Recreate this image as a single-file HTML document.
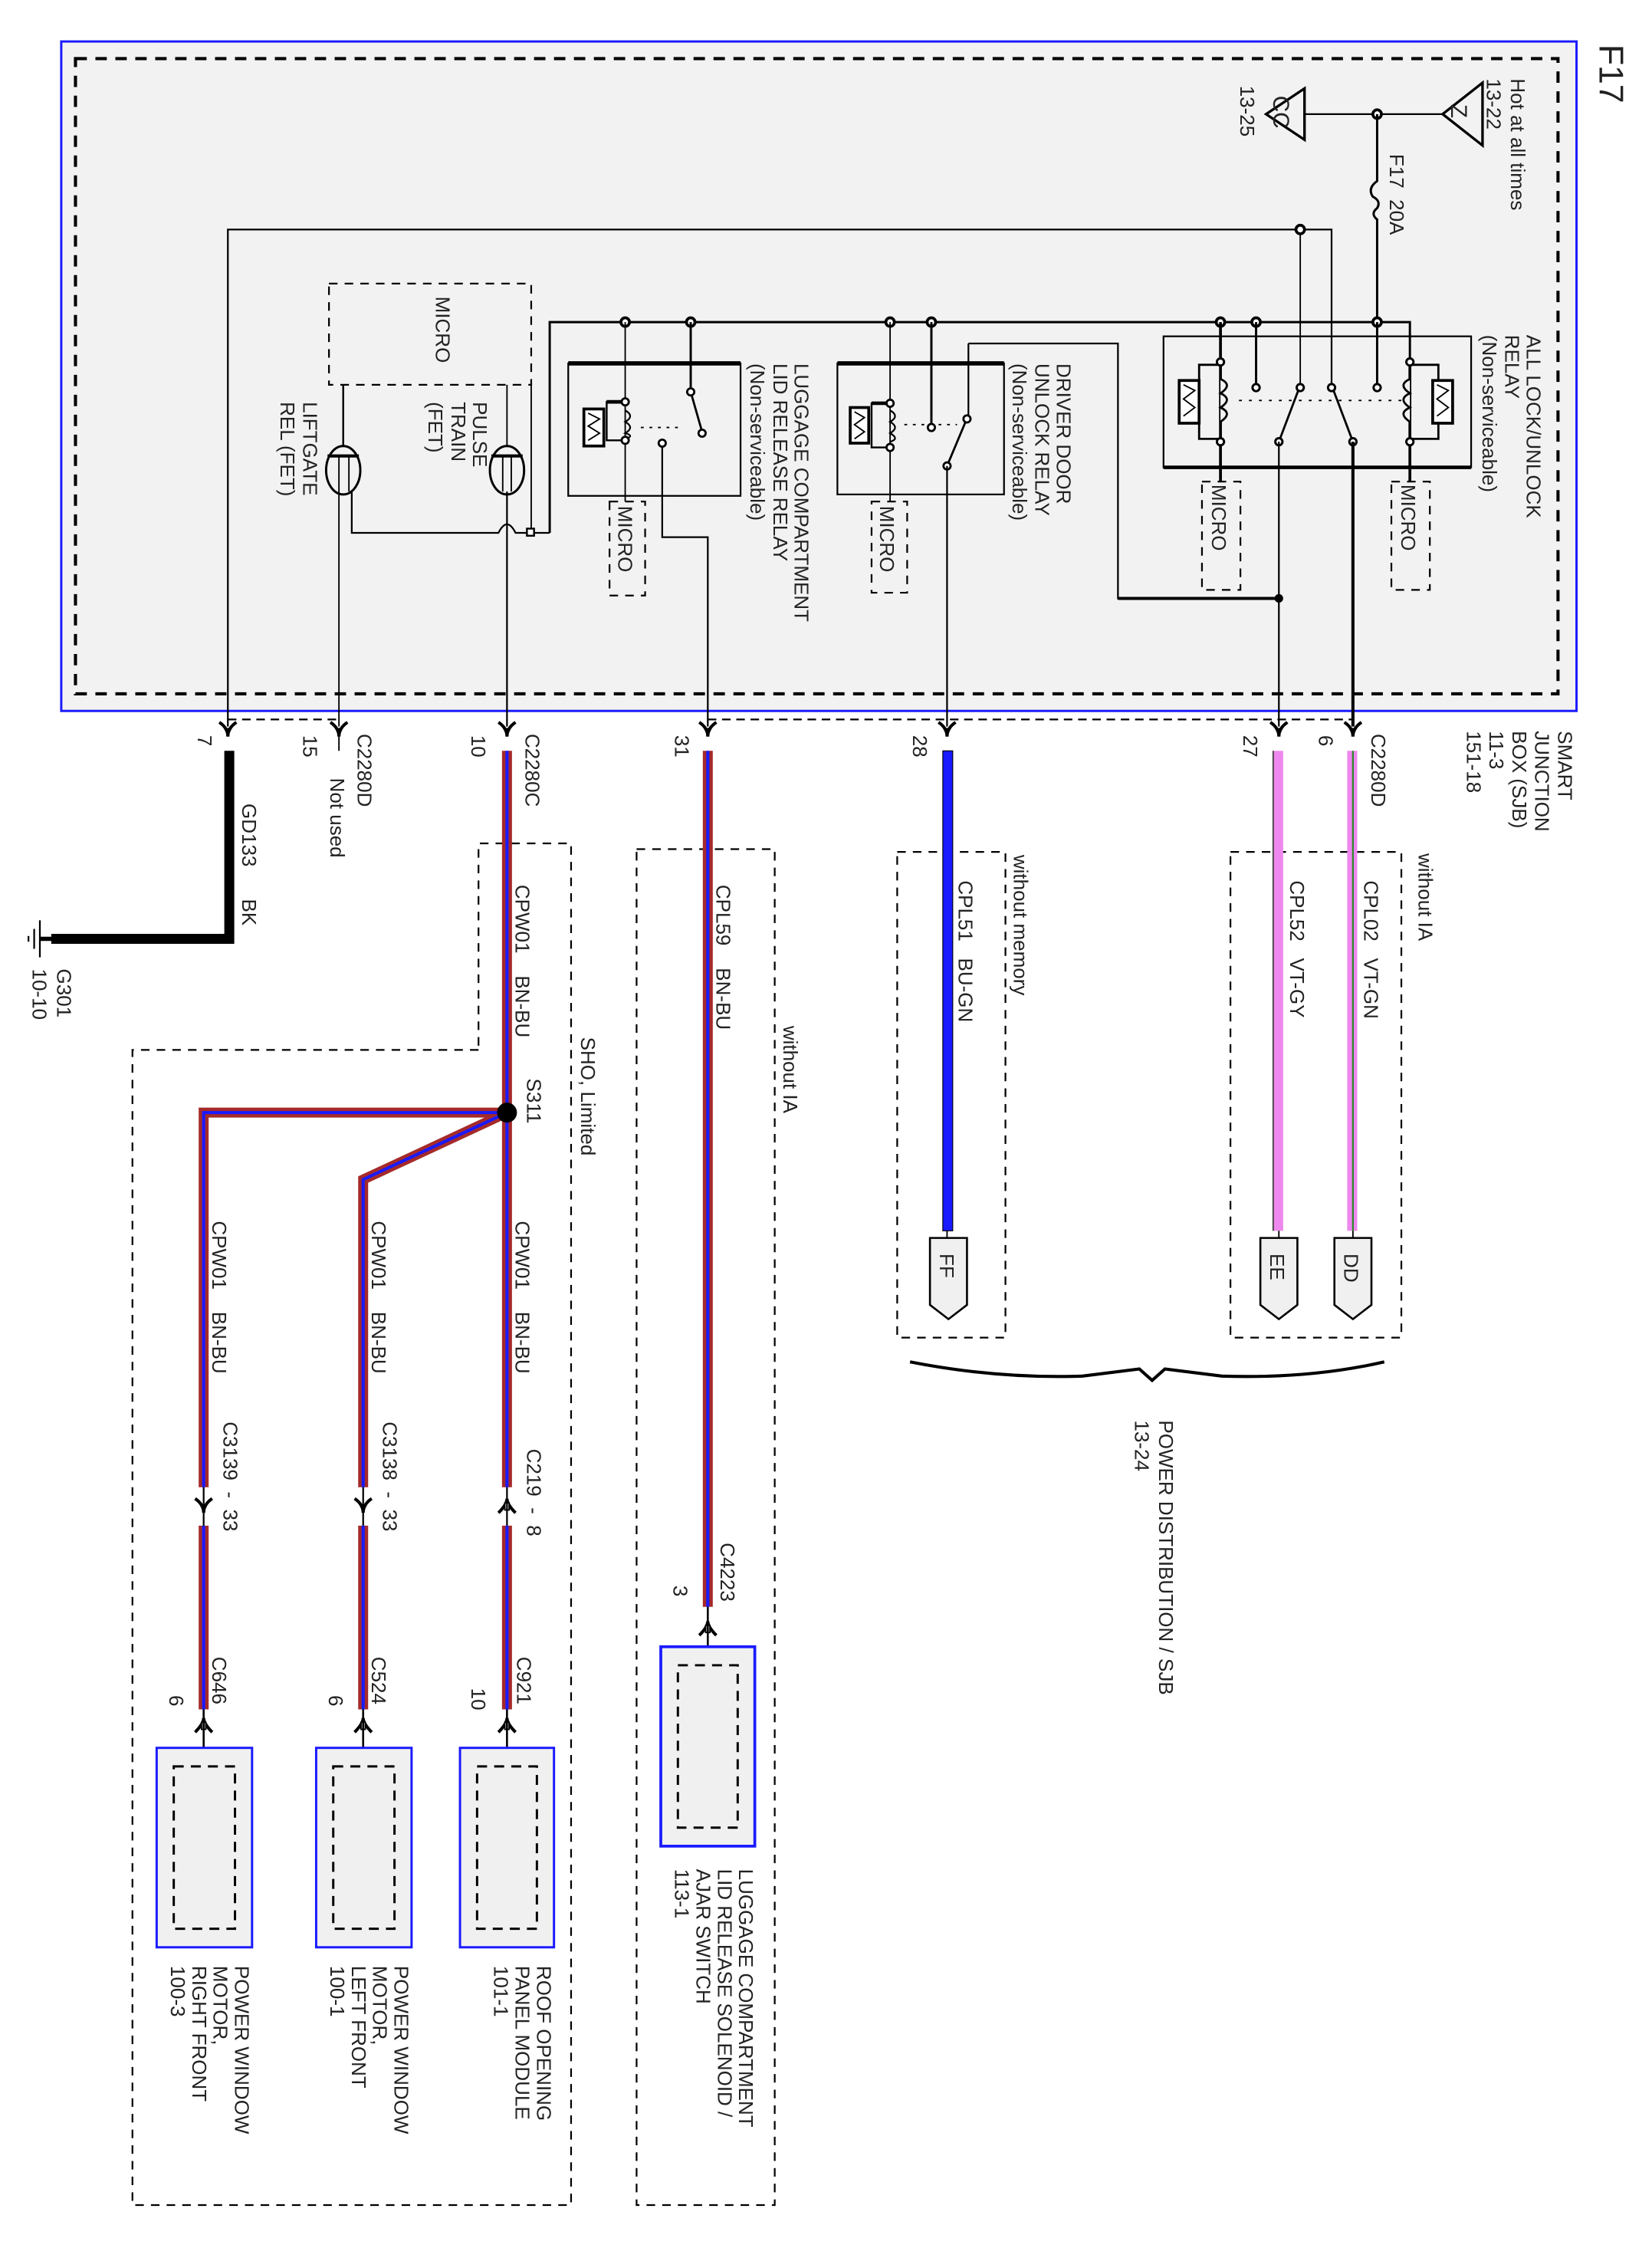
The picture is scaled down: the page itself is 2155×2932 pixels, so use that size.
<!DOCTYPE html>
<html><head><meta charset="utf-8"><style>
html,body{margin:0;padding:0;background:#fff;}
svg{display:block;}
text{font-family:"Liberation Sans",Arial,sans-serif;fill:#222;white-space:pre;}
</style></head><body>
<svg width="2155" height="2932" viewBox="0 0 1160 1578" xmlns="http://www.w3.org/2000/svg" xml:space="preserve">
<defs>
<g id="cdn"><path d="M-6,-6 Q0,-2 0,4 Q0,-2 6,-6" fill="none" stroke="#000" stroke-width="2.2"/><path d="M-3,-2 L0,4 L3,-2Z" fill="#000"/></g>
<g id="cup"><path d="M-6,4 Q0,-2 0,-6 Q0,-2 6,4" fill="none" stroke="#000" stroke-width="2.2"/><rect x="-1.5" y="-3" width="3" height="5" fill="#fff" stroke="#000" stroke-width="1"/></g>
</defs>
<rect x="43" y="29" width="1064" height="470" fill="#f2f2f2" stroke="#1a1aff" stroke-width="1.6"/>
<rect x="53" y="41" width="1041" height="446" fill="none" stroke="#000" stroke-width="2.2" stroke-dasharray="8,6"/>
<text transform="translate(1123,31) rotate(90)" font-size="24">F17</text>

<line x1="916" y1="80" x2="1013" y2="80" stroke="#000" stroke-width="1.2"/>
<path d="M1013,80 L1041,58 L1041,102Z" fill="#f2f2f2" stroke="#000" stroke-width="1.8"/>
<text transform="translate(1019,73) rotate(90)" font-size="16">Z</text>
<path d="M889,80 L916,62 L916,98Z" fill="#f2f2f2" stroke="#000" stroke-width="1.8"/>
<text transform="translate(894,67) rotate(90)" font-size="16">CC</text>
<text transform="translate(1061,55) rotate(90)" font-size="14">Hot at all times</text>
<text transform="translate(1044,55) rotate(90)" font-size="14">13-22</text>
<text transform="translate(871,60) rotate(90)" font-size="14">13-25</text>
<circle cx="967" cy="80" r="3" fill="#fff" stroke="#000" stroke-width="2"/>
<path d="M967,80 L967,127 Q960,132 964,138 Q970,141 967,146 Q962,150 967,154 L967,226" fill="none" stroke="#000" stroke-width="1.6"/>
<text transform="translate(976,108) rotate(90)" font-size="14">F17  20A</text>

<polyline points="160,510 160,161 935,161 935,272" fill="none" stroke="#000" stroke-width="1.2"/>
<line x1="913" y1="161" x2="913" y2="272" stroke="#000" stroke-width="1"/>
<circle cx="913" cy="161" r="3" fill="#fff" stroke="#000" stroke-width="2"/>

<polyline points="386,374 386,226 990,226 990,254" fill="none" stroke="#000" stroke-width="1.6"/>
<g fill="#fff" stroke="#000" stroke-width="2">
<circle cx="439" cy="226" r="3"/><circle cx="485" cy="226" r="3"/><circle cx="625" cy="226" r="3"/><circle cx="654" cy="226" r="3"/>
<circle cx="857" cy="226" r="3"/><circle cx="882" cy="226" r="3"/><circle cx="967" cy="226" r="3"/>
</g>

<rect x="817" y="236" width="216" height="92" fill="none" stroke="#000" stroke-width="1.2"/>
<line x1="817" y1="328" x2="1033" y2="328" stroke="#000" stroke-width="2.5"/>
<line x1="857" y1="226" x2="857" y2="338" stroke="#000" stroke-width="2"/>
<line x1="990" y1="254" x2="990" y2="338" stroke="#000" stroke-width="2"/>
<path d="M857,256 L842,256 L842,308 L857,308 M990,256 L1010,256 L1010,308 L990,308" fill="none" stroke="#000" stroke-width="1.5"/>
<rect x="828" y="267" width="14" height="30" fill="#fff" stroke="#000" stroke-width="2"/>
<rect x="1006" y="267" width="14" height="30" fill="#fff" stroke="#000" stroke-width="2"/>
<path d="M831,270 L839,274 L831,280 L839,286 L831,292 M1009,270 L1017,274 L1009,280 L1017,286 L1009,292" fill="none" stroke="#000" stroke-width="1"/>
<path d="M857,266 Q866,270 857,276 Q866,280 857,286 Q866,290 857,296" fill="#f2f2f2" stroke="#000" stroke-width="1.5"/>
<path d="M990,266 Q981,270 990,276 Q981,280 990,286 Q981,290 990,296" fill="#f2f2f2" stroke="#000" stroke-width="1.5"/>
<line x1="882" y1="226" x2="882" y2="272" stroke="#000" stroke-width="1.6"/>
<line x1="967" y1="226" x2="967" y2="272" stroke="#000" stroke-width="1.6"/>
<line x1="870" y1="281" x2="985" y2="281" stroke="#000" stroke-width="1" stroke-dasharray="2,5"/>
<line x1="898" y1="310" x2="912" y2="273" stroke="#000" stroke-width="1.5"/>
<line x1="950" y1="310" x2="936" y2="273" stroke="#000" stroke-width="1.5"/>
<g fill="#fff" stroke="#000" stroke-width="1.6">
<circle cx="882" cy="272" r="2.5"/><circle cx="913" cy="272" r="2.5"/><circle cx="935" cy="272" r="2.5"/><circle cx="967" cy="272" r="2.5"/>
<circle cx="898" cy="310" r="2.5"/><circle cx="950" cy="310" r="2.5"/>
<circle cx="857" cy="254" r="2.5"/><circle cx="857" cy="310" r="2.5"/><circle cx="990" cy="254" r="2.5"/><circle cx="990" cy="310" r="2.5"/>
</g>
<rect x="844" y="338" width="27" height="76" fill="none" stroke="#000" stroke-width="1.2" stroke-dasharray="6,5"/>
<rect x="977" y="338" width="27" height="76" fill="none" stroke="#000" stroke-width="1.2" stroke-dasharray="6,5"/>
<text transform="translate(851,340) rotate(90)" font-size="14">MICRO</text>
<text transform="translate(984,340) rotate(90)" font-size="14">MICRO</text>
<text transform="translate(1072,235) rotate(90)" font-size="14">ALL LOCK/UNLOCK</text>
<text transform="translate(1057,235) rotate(90)" font-size="14">RELAY</text>
<text transform="translate(1041,235) rotate(90)" font-size="14">(Non-serviceable)</text>
<line x1="898" y1="310" x2="898" y2="510" stroke="#000" stroke-width="1.2"/>
<line x1="950" y1="310" x2="950" y2="510" stroke="#000" stroke-width="2.2"/>
<polyline points="680,241 785,241 785,420 898,420" fill="none" stroke="#000" stroke-width="1.2"/>
<line x1="785" y1="420" x2="898" y2="420" stroke="#000" stroke-width="2.2"/>
<circle cx="898" cy="420" r="3" fill="#000"/>

<rect x="588" y="255" width="117" height="92" fill="none" stroke="#000" stroke-width="1.2"/>
<line x1="588" y1="255" x2="705" y2="255" stroke="#000" stroke-width="3"/>
<line x1="625" y1="226" x2="625" y2="352" stroke="#000" stroke-width="1"/>
<path d="M625,283 L612,283 L612,314 L625,314" fill="none" stroke="#000" stroke-width="1.3"/>
<line x1="612" y1="283" x2="625" y2="283" stroke="#000" stroke-width="2.5"/>
<rect x="597" y="286" width="13" height="25" fill="#fff" stroke="#000" stroke-width="2"/>
<path d="M600,289 L607,293 L600,298 L607,303 L600,308" fill="none" stroke="#000" stroke-width="1"/>
<path d="M625,288 Q632,292 625,296 Q632,300 625,304 Q632,308 625,310" fill="none" stroke="#000" stroke-width="1.2"/>
<line x1="654" y1="226" x2="654" y2="300" stroke="#000" stroke-width="1.6"/>
<polyline points="680,241 680,294" fill="none" stroke="#000" stroke-width="1.2"/>
<line x1="635" y1="298" x2="672" y2="298" stroke="#000" stroke-width="1" stroke-dasharray="2,4"/>
<line x1="665" y1="327" x2="678" y2="296" stroke="#000" stroke-width="1.5"/>
<g fill="#fff" stroke="#000" stroke-width="1.5">
<circle cx="625" cy="283" r="2.5"/><circle cx="625" cy="314" r="2.5"/><circle cx="654" cy="300" r="2.5"/><circle cx="679" cy="294" r="2.5"/><circle cx="665" cy="327" r="2.5"/>
</g>
<rect x="612" y="352" width="25" height="64" fill="none" stroke="#000" stroke-width="1.2" stroke-dasharray="6,5"/>
<text transform="translate(618,355) rotate(90)" font-size="14">MICRO</text>
<line x1="665" y1="327" x2="665" y2="510" stroke="#000" stroke-width="1.2"/>
<text transform="translate(742,255) rotate(90)" font-size="14">DRIVER DOOR</text>
<text transform="translate(727,255) rotate(90)" font-size="14">UNLOCK RELAY</text>
<text transform="translate(711,255) rotate(90)" font-size="14">(Non-serviceable)</text>

<rect x="399" y="255" width="121" height="93" fill="none" stroke="#000" stroke-width="1.2"/>
<line x1="399" y1="255" x2="520" y2="255" stroke="#000" stroke-width="3"/>
<line x1="439" y1="226" x2="439" y2="352" stroke="#000" stroke-width="1"/>
<path d="M439,309 L426,309 L426,282 L439,282" fill="none" stroke="#000" stroke-width="1.3"/>
<line x1="426" y1="282" x2="439" y2="282" stroke="#000" stroke-width="2.5"/>
<rect x="410" y="287" width="14" height="26" fill="#fff" stroke="#000" stroke-width="2"/>
<path d="M413,290 L421,294 L413,299 L421,304 L413,309" fill="none" stroke="#000" stroke-width="1"/>
<path d="M439,288 Q446,292 439,296 Q446,300 439,304 Q446,306 439,308" fill="none" stroke="#000" stroke-width="1.2"/>
<line x1="485" y1="226" x2="485" y2="275" stroke="#000" stroke-width="1.6"/>
<line x1="485" y1="275" x2="493" y2="303" stroke="#000" stroke-width="1.5"/>
<line x1="450" y1="300" x2="480" y2="300" stroke="#000" stroke-width="1" stroke-dasharray="2,4"/>
<g fill="#fff" stroke="#000" stroke-width="1.5">
<circle cx="439" cy="282" r="2.5"/><circle cx="439" cy="309" r="2.5"/><circle cx="485" cy="275" r="2.5"/><circle cx="493" cy="304" r="2.5"/><circle cx="465" cy="311" r="2.5"/>
</g>
<polyline points="465,313 465,377 497,377 497,510" fill="none" stroke="#000" stroke-width="1.2"/>
<rect x="428" y="352" width="25" height="66" fill="none" stroke="#000" stroke-width="1.2" stroke-dasharray="6,5"/>
<text transform="translate(434,355) rotate(90)" font-size="14">MICRO</text>
<text transform="translate(558,255) rotate(90)" font-size="14">LUGGAGE COMPARTMENT</text>
<text transform="translate(543,255) rotate(90)" font-size="14">LID RELEASE RELAY</text>
<text transform="translate(527,255) rotate(90)" font-size="14">(Non-serviceable)</text>

<rect x="231" y="199" width="142" height="71" fill="none" stroke="#000" stroke-width="1.2" stroke-dasharray="6,5"/>
<text transform="translate(306,208) rotate(90)" font-size="14">MICRO</text>
<line x1="241" y1="270" x2="241" y2="316" stroke="#000" stroke-width="1.3"/>
<line x1="373" y1="270" x2="373" y2="374" stroke="#000" stroke-width="1"/>
<line x1="356" y1="270" x2="356" y2="316" stroke="#000" stroke-width="1"/>
<ellipse cx="241" cy="330" rx="12" ry="17" fill="#f2f2f2" stroke="#000" stroke-width="1.6"/>
<ellipse cx="356" cy="330" rx="12" ry="17" fill="#f2f2f2" stroke="#000" stroke-width="1.6"/>
<line x1="230" y1="320" x2="252" y2="320" stroke="#000" stroke-width="2.2"/>
<line x1="345" y1="320" x2="367" y2="320" stroke="#000" stroke-width="2.2"/>
<line x1="238" y1="320" x2="238" y2="510" stroke="#000" stroke-width="1"/>
<line x1="245" y1="320" x2="245" y2="345" stroke="#000" stroke-width="1"/>
<line x1="353" y1="320" x2="353" y2="345" stroke="#000" stroke-width="1"/>
<line x1="359" y1="320" x2="359" y2="345" stroke="#000" stroke-width="1"/>
<line x1="356" y1="345" x2="356" y2="510" stroke="#000" stroke-width="1.2"/>
<path d="M247,345 L247,374 L350,374 Q356,362 362,374 L386,374" fill="none" stroke="#000" stroke-width="1.2"/>
<rect x="370" y="371" width="5" height="5" fill="#fff" stroke="#000" stroke-width="1.3"/>
<text transform="translate(332,282) rotate(90)" font-size="14">PULSE</text>
<text transform="translate(317,282) rotate(90)" font-size="14">TRAIN</text>
<text transform="translate(301,282) rotate(90)" font-size="14">(FET)</text>
<text transform="translate(213,282) rotate(90)" font-size="14">LIFTGATE</text>
<text transform="translate(197,282) rotate(90)" font-size="14">REL (FET)</text>

<line x1="160" y1="505" x2="238" y2="505" stroke="#000" stroke-width="1.2" stroke-dasharray="6,4"/>
<line x1="497" y1="505" x2="950" y2="505" stroke="#000" stroke-width="1.2" stroke-dasharray="6,4"/>
<g>
<use href="#cdn" x="160" y="513"/><use href="#cdn" x="238" y="513"/><use href="#cdn" x="356" y="513"/><use href="#cdn" x="497" y="513"/>
<use href="#cdn" x="665" y="513"/><use href="#cdn" x="898" y="513"/><use href="#cdn" x="950" y="513"/>
</g>
<line x1="238" y1="517" x2="238" y2="527" stroke="#000" stroke-width="1"/>
<text transform="translate(139,516) rotate(90)" font-size="14">7</text>
<text transform="translate(213,516) rotate(90)" font-size="14">15</text>
<text transform="translate(251,515) rotate(90)" font-size="14">C2280D</text>
<text transform="translate(232,546) rotate(90)" font-size="14">Not used</text>
<text transform="translate(331,516) rotate(90)" font-size="14">10</text>
<text transform="translate(369,515) rotate(90)" font-size="14">C2280C</text>
<text transform="translate(474,516) rotate(90)" font-size="14">31</text>
<text transform="translate(641,516) rotate(90)" font-size="14">28</text>
<text transform="translate(873,516) rotate(90)" font-size="14">27</text>
<text transform="translate(926,516) rotate(90)" font-size="14">6</text>
<text transform="translate(963,515) rotate(90)" font-size="14">C2280D</text>
<text transform="translate(1094,513) rotate(90)" font-size="14">SMART</text>
<text transform="translate(1078,513) rotate(90)" font-size="14">JUNCTION</text>
<text transform="translate(1062,513) rotate(90)" font-size="14">BOX (SJB)</text>
<text transform="translate(1046,513) rotate(90)" font-size="14">11-3</text>
<text transform="translate(1030,513) rotate(90)" font-size="14">151-18</text>

<polyline points="161,527 161,659 36,659" fill="none" stroke="#000" stroke-width="7"/>
<line x1="28" y1="659" x2="38" y2="659" stroke="#000" stroke-width="3"/>
<line x1="28" y1="646" x2="28" y2="672" stroke="#000" stroke-width="1.2"/>
<line x1="24" y1="652" x2="24" y2="666" stroke="#000" stroke-width="1.2"/>
<line x1="20" y1="657" x2="20" y2="661" stroke="#000" stroke-width="1.2"/>
<text transform="translate(170,564) rotate(90)" font-size="14">GD133</text>
<text transform="translate(170,631) rotate(90)" font-size="14">BK</text>
<text transform="translate(40,680) rotate(90)" font-size="14">G301</text>
<text transform="translate(23,680) rotate(90)" font-size="14">10-10</text>

<g fill="none" stroke="#000" stroke-width="1.2" stroke-dasharray="6,5">
<polyline points="336,737 93,737 93,1548 401,1548 401,592 336,592 336,737"/>
<rect x="447" y="596" width="97" height="952"/>
<rect x="630" y="598" width="76" height="341"/>
<rect x="864" y="598" width="120" height="341"/>
</g>
<text transform="translate(408,728) rotate(90)" font-size="14">SHO, Limited</text>
<text transform="translate(550,720) rotate(90)" font-size="14">without IA</text>
<text transform="translate(712,600) rotate(90)" font-size="14">without memory</text>
<text transform="translate(996,599) rotate(90)" font-size="14">without IA</text>

<g fill="none" stroke-linejoin="miter">
<g stroke="#a52a2a" stroke-width="7">
<polyline points="356,527 356,1044"/><polyline points="356,781 143,781 143,1044"/><polyline points="356,781 255,828 255,1044"/>
<line x1="356" y1="1071" x2="356" y2="1200"/><line x1="143" y1="1071" x2="143" y2="1200"/><line x1="255" y1="1071" x2="255" y2="1200"/>
<line x1="497" y1="527" x2="497" y2="1128"/>
</g>
<g stroke="#1a1aff" stroke-width="2.2">
<polyline points="356,527 356,1044"/><polyline points="356,781 143,781 143,1044"/><polyline points="356,781 255,828 255,1044"/>
<line x1="356" y1="1071" x2="356" y2="1200"/><line x1="143" y1="1071" x2="143" y2="1200"/><line x1="255" y1="1071" x2="255" y2="1200"/>
<line x1="497" y1="527" x2="497" y2="1128"/>
</g>
</g>
<circle cx="356" cy="781" r="7" fill="#000"/>
<rect x="662" y="527" width="7" height="337" fill="#1a1aff" stroke="#000" stroke-width="0.6"/>
<rect x="894" y="527" width="7" height="337" fill="#ee88ee"/>
<line x1="894" y1="527" x2="894" y2="864" stroke="#444" stroke-width="1"/>
<rect x="946" y="527" width="7" height="337" fill="#ee88ee"/>
<line x1="950" y1="527" x2="950" y2="864" stroke="#2a8a2a" stroke-width="1.2"/>
<g fill="#f0f0f0" stroke="#000" stroke-width="1.4">
<path d="M653,869 L679,869 L679,916 L666,926 L653,916Z"/>
<path d="M885,869 L911,869 L911,916 L898,926 L885,916Z"/>
<path d="M937,869 L963,869 L963,916 L950,926 L937,916Z"/>
</g>
<line x1="665" y1="864" x2="665" y2="869" stroke="#000"/><line x1="898" y1="864" x2="898" y2="869" stroke="#000"/><line x1="950" y1="864" x2="950" y2="869" stroke="#000"/>
<text transform="translate(660,880) rotate(90)" font-size="14">FF</text>
<text transform="translate(892,880) rotate(90)" font-size="14">EE</text>
<text transform="translate(944,880) rotate(90)" font-size="14">DD</text>
<text transform="translate(673,618) rotate(90)" font-size="14">CPL51   BU-GN</text>
<text transform="translate(906,618) rotate(90)" font-size="14">CPL52   VT-GY</text>
<text transform="translate(958,618) rotate(90)" font-size="14">CPL02   VT-GN</text>
<path d="M639,956 Q700,968 760,966 L800,961 L809,969 L818,961 L858,966 Q920,968 972,956" fill="none" stroke="#000" stroke-width="2.2"/>
<text transform="translate(814,997) rotate(90)" font-size="14">POWER DISTRIBUTION / SJB</text>
<text transform="translate(797,997) rotate(90)" font-size="14">13-24</text>

<text transform="translate(503,621) rotate(90)" font-size="14">CPL59    BN-BU</text>
<text transform="translate(362,621) rotate(90)" font-size="14">CPW01    BN-BU</text>
<text transform="translate(370,757) rotate(90)" font-size="14">S311</text>
<text transform="translate(362,857) rotate(90)" font-size="14">CPW01    BN-BU</text>
<text transform="translate(261,857) rotate(90)" font-size="14">CPW01    BN-BU</text>
<text transform="translate(149,857) rotate(90)" font-size="14">CPW01    BN-BU</text>
<text transform="translate(370,1017) rotate(90)" font-size="14">C219  -  8</text>
<text transform="translate(269,998) rotate(90)" font-size="14">C3138  -  33</text>
<text transform="translate(157,998) rotate(90)" font-size="14">C3139  -  33</text>
<text transform="translate(363,1163) rotate(90)" font-size="14">C921</text>
<text transform="translate(261,1163) rotate(90)" font-size="14">C524</text>
<text transform="translate(149,1163) rotate(90)" font-size="14">C646</text>
<text transform="translate(331,1185) rotate(90)" font-size="14">10</text>
<text transform="translate(231,1190) rotate(90)" font-size="14">6</text>
<text transform="translate(119,1190) rotate(90)" font-size="14">6</text>
<text transform="translate(506,1083) rotate(90)" font-size="14">C4223</text>
<text transform="translate(473,1113) rotate(90)" font-size="14">3</text>

<use href="#cup" x="356" y="1058"/><use href="#cdn" x="255" y="1058"/><use href="#cdn" x="143" y="1058"/>
<line x1="356" y1="1044" x2="356" y2="1071" stroke="#000" stroke-width="1.2"/>
<line x1="255" y1="1044" x2="255" y2="1071" stroke="#000" stroke-width="1.2"/>
<line x1="143" y1="1044" x2="143" y2="1071" stroke="#000" stroke-width="1.2"/>
<use href="#cup" x="356" y="1212"/><use href="#cup" x="255" y="1212"/><use href="#cup" x="143" y="1212"/><use href="#cup" x="497" y="1144"/>
<line x1="356" y1="1200" x2="356" y2="1241" stroke="#000" stroke-width="1.4"/>
<line x1="255" y1="1200" x2="255" y2="1241" stroke="#000" stroke-width="1.4"/>
<line x1="143" y1="1200" x2="143" y2="1241" stroke="#000" stroke-width="1.4"/>
<line x1="497" y1="1128" x2="497" y2="1170" stroke="#000" stroke-width="1.4"/>

<g fill="#f0f0f0" stroke="#1a1aff" stroke-width="1.6">
<rect x="323" y="1227" width="66" height="140"/>
<rect x="222" y="1227" width="67" height="140"/>
<rect x="110" y="1227" width="67" height="140"/>
<rect x="464" y="1156" width="66" height="140" stroke-width="2"/>
</g>
<g fill="none" stroke="#000" stroke-width="1.6" stroke-dasharray="7,5">
<rect x="335" y="1240" width="42" height="114"/>
<rect x="234" y="1240" width="43" height="114"/>
<rect x="122" y="1240" width="43" height="114"/>
<rect x="476" y="1169" width="42" height="114"/>
</g>
<text transform="translate(377,1380) rotate(90)" font-size="14">ROOF OPENING</text>
<text transform="translate(362,1380) rotate(90)" font-size="14">PANEL MODULE</text>
<text transform="translate(347,1380) rotate(90)" font-size="14">101-1</text>
<text transform="translate(277,1380) rotate(90)" font-size="14">POWER WINDOW</text>
<text transform="translate(262,1380) rotate(90)" font-size="14">MOTOR,</text>
<text transform="translate(247,1380) rotate(90)" font-size="14">LEFT FRONT</text>
<text transform="translate(232,1380) rotate(90)" font-size="14">100-1</text>
<text transform="translate(165,1380) rotate(90)" font-size="14">POWER WINDOW</text>
<text transform="translate(150,1380) rotate(90)" font-size="14">MOTOR,</text>
<text transform="translate(135,1380) rotate(90)" font-size="14">RIGHT FRONT</text>
<text transform="translate(120,1380) rotate(90)" font-size="14">100-3</text>
<text transform="translate(519,1312) rotate(90)" font-size="14">LUGGAGE COMPARTMENT</text>
<text transform="translate(504,1312) rotate(90)" font-size="14">LID RELEASE SOLENOID /</text>
<text transform="translate(489,1312) rotate(90)" font-size="14">AJAR SWITCH</text>
<text transform="translate(474,1312) rotate(90)" font-size="14">113-1</text>
</svg>
</body></html>
